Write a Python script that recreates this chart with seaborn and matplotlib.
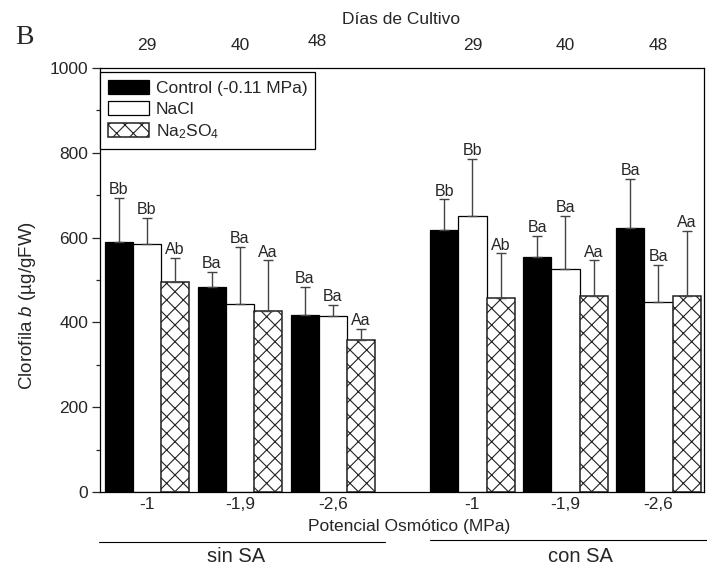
import numpy as np
import pandas as pd
import matplotlib
matplotlib.use("Agg")
import matplotlib.pyplot as plt
import seaborn as sns
from matplotlib.lines import Line2D
from matplotlib.transforms import blended_transform_factory

# ---------------- data ----------------
osmotic_labels = ['-1', '-1,9', '-2,6', '-1', '-1,9', '-2,6']
day_labels = ['29', '40', '48', '29', '40', '48']
group_pos = [0, 1, 2, 3.5, 4.5, 5.5]
treatments = ['Control (-0.11 MPa)', 'NaCl',
              'Na$_{\\mathregular{2}}$SO$_{\\mathregular{4}}$']

control = [590, 484, 417, 619, 555, 622]
nacl = [586, 443, 414, 651, 527, 447]
na2so4 = [496, 427, 358, 457, 463, 463]

control_err = [104, 36, 67, 71, 49, 116]
nacl_err = [60, 136, 27, 134, 124, 88]
na2so4_err = [57, 119, 26, 106, 83, 153]

control_sig = ['Bb', 'Ba', 'Ba', 'Bb', 'Ba', 'Ba']
nacl_sig = ['Bb', 'Ba', 'Ba', 'Bb', 'Ba', 'Ba']
na2so4_sig = ['Ab', 'Aa', 'Aa', 'Ab', 'Aa', 'Aa']

values = [control, nacl, na2so4]
errors = [control_err, nacl_err, na2so4_err]
sigs = [control_sig, nacl_sig, na2so4_sig]

rows = []
for t, vals in zip(treatments, values):
    for p, v in zip(group_pos, vals):
        rows.append({'pos': p, 'value': v, 'treatment': t})
df = pd.DataFrame(rows)

# ---------------- style ----------------
sns.set_style('ticks')
plt.rcParams['font.family'] = ['Liberation Sans', 'DejaVu Sans']
plt.rcParams['mathtext.fontset'] = 'custom'
plt.rcParams['mathtext.rm'] = 'Liberation Sans'
plt.rcParams['mathtext.it'] = 'Liberation Sans:italic'
plt.rcParams['hatch.linewidth'] = 0.8
plt.rcParams['axes.linewidth'] = 0.9

W, H = 707, 565
fig = plt.figure(figsize=(W / 100, H / 100), dpi=100)
ax = fig.add_axes([100 / W, 1 - 492 / H, 604 / W, 424 / H])

sns.barplot(data=df, x='pos', y='value', hue='treatment', hue_order=treatments,
            palette=['black', 'white', 'white'], native_scale=True, width=0.91,
            errorbar=None, edgecolor='black', linewidth=0.9, legend=False, ax=ax)

bar_containers = list(ax.containers)
for i, cont in enumerate(bar_containers):
    patches = sorted(cont.patches, key=lambda p: p.get_x())
    if i == 2:
        for p in patches:
            p.set_hatch('xx')
            p.set_edgecolor('#222222')
            p.set_linewidth(1.1)
    xc = np.array([p.get_x() + p.get_width() / 2 for p in patches])
    hts = np.array([p.get_height() for p in patches])
    err = np.array(errors[i])
    ax.errorbar(xc, hts, yerr=[np.zeros_like(err), err], fmt='none',
                ecolor='#444444', elinewidth=1.0, capsize=3.8, capthick=1.0,
                zorder=3)
    for x, h, e, s in zip(xc, hts, err, sigs[i]):
        ax.annotate(s, (x, h + e), xytext=(0, 0.5), textcoords='offset points',
                    ha='center', va='bottom', fontsize=11.5)

ax.set_ylim(0, 1000)
ax.set_xlim(-0.505, 5.99)
ax.set_yticks(np.arange(0, 1001, 200))
ax.set_yticks(np.arange(100, 1000, 200), minor=True)
ax.set_xticks(group_pos, labels=osmotic_labels)
ax.tick_params(axis='y', which='major', length=5.8, width=0.9, pad=2.5,
               labelsize=12.5, right=False, left=True)
ax.tick_params(axis='y', which='minor', length=2.8, width=0.9, right=False)
ax.tick_params(axis='x', length=0, pad=3.5, labelsize=12.5, top=False)
for s in ax.spines.values():
    s.set_visible(True)
    s.set_color('black')

ax.set_ylabel('Clorofila $\\it{b}$ (µg/gFW)', fontsize=13.5)
ax.yaxis.set_label_coords(-0.103, 0.44)
ax.set_xlabel('Potencial Osmótico (MPa)', fontsize=12.5)
ax.xaxis.set_label_coords(0.512, -0.064)

# top day labels
trans = blended_transform_factory(ax.transData, ax.transAxes)
top_dx = [0, 0, -0.17, 0, 0, 0]
top_dy = [0, 0, 0.008, 0, 0, 0]
for p, d, dx, dy in zip(group_pos, day_labels, top_dx, top_dy):
    ax.text(p + dx, 1.054 + dy, d, transform=trans, ha='center', va='center',
            fontsize=12.5, clip_on=False)

fig.text(401 / W, 1 - 20 / H, 'Días de Cultivo', ha='center', va='center',
         fontsize=12.5)
fig.text(24 / W, 1 - 37 / H, 'B', ha='center', va='center', fontsize=20,
         family='Liberation Serif')

# legend
handles = [c.patches[0] for c in bar_containers]
leg = ax.legend(handles, treatments, loc='upper left', bbox_to_anchor=(0.0, 0.99),
                borderaxespad=0, frameon=True, fancybox=False, framealpha=1,
                edgecolor='black', fontsize=12.5, handlelength=2.4,
                handleheight=0.85, handletextpad=0.35, labelspacing=0.3,
                borderpad=0.45)
leg.get_frame().set_linewidth(0.9)

# group labels below
fig.add_artist(Line2D([99 / W, 385 / W], [1 - 542 / H] * 2, color='black', lw=0.8))
fig.add_artist(Line2D([430 / W, 707 / W], [1 - 540 / H] * 2, color='black', lw=0.8))
fig.text(236 / W, 1 - 556 / H, 'sin SA', ha='center', va='center', fontsize=14.5)
fig.text(580 / W, 1 - 557 / H, 'con SA', ha='center', va='center', fontsize=14.5)

fig.savefig('out.png', dpi=100)
